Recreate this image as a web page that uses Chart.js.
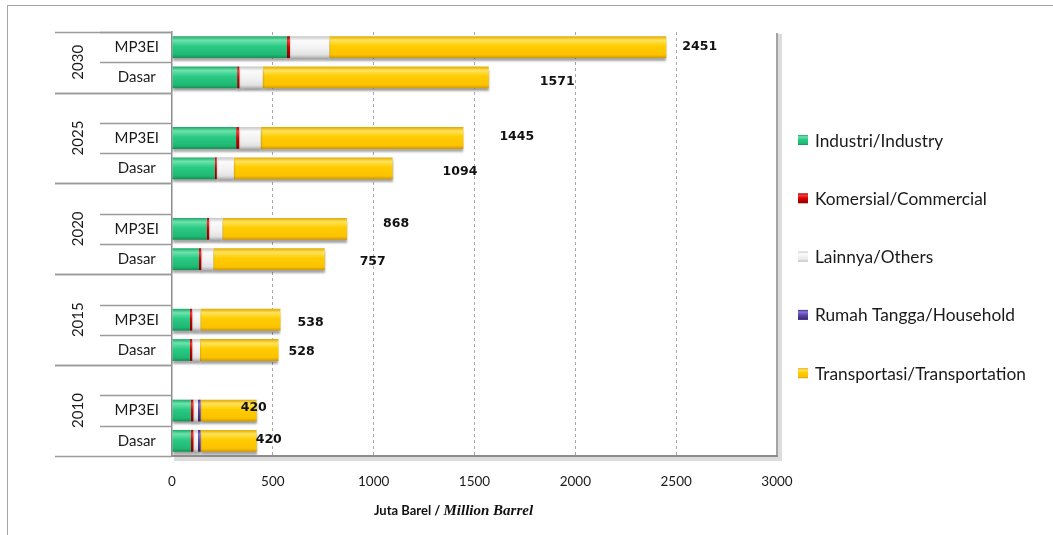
<!DOCTYPE html>
<html>
<head>
<meta charset="utf-8">
<script src="https://cdn.jsdelivr.net/npm/chart.js@4/dist/chart.umd.min.js"></script>
<style>
	html, body { margin: 0; background: #fff; }
	canvas { display: block; }
</style>
</head>
<body>
<canvas id="chart" width="1053" height="535"></canvas>
<script>
'use strict';

const years = ['2030', '2025', '2020', '2015', '2010'];
const scenarios = ['MP3EI', 'Dasar'];

// one value per bar, top to bottom: 2030 MP3EI, 2030 Dasar, 2025 MP3EI, ...
const industri     = [570, 323, 318, 212, 172, 134, 89, 89, 93, 93];
const komersial    = [15, 11, 15, 10, 12, 11, 11, 11, 13, 13];
const lainnya      = [195, 116, 107, 85, 66, 60, 41, 39, 23, 23];
const rumahTangga  = [0, 0, 0, 0, 0, 0, 0, 0, 13, 13];
const transportasi = [1671, 1121, 1005, 787, 618, 552, 397, 389, 278, 278];

const seriesNames = [
	'Industri/Industry',
	'Komersial/Commercial',
	'Lainnya/Others',
	'Rumah Tangga/Household',
	'Transportasi/Transportation',
];

const xTicks = [0, 500, 1000, 1500, 2000, 2500, 3000];

// hand-placed total labels, px nudge from the bar end
const labelDx = [16, 51, 36, 50, 36, 35, 17, 10, -16, -1];
const labelDy = [0, 4, -1, 3, -5, 3, 3, 2, -3, -1];

const SANS = 'Lato, "Open Sans", sans-serif';
const BAR_PCT = 0.72;

// bevel-ish gradient stops per series
const palette = [
	[[0, '#1aa866'], [0.18, '#6fe2ad'], [0.45, '#2acb85'], [0.85, '#1fb873'], [1, '#138f55']],
	[[0, '#a00000'], [0.2, '#ff3a3a'], [0.5, '#d80000'], [1, '#8a0000']],
	[[0, '#c4c4c4'], [0.2, '#fbfbfb'], [0.6, '#f0f0f0'], [0.85, '#e2e2e2'], [1, '#b0b0b0']],
	[[0, '#3f2a85'], [0.2, '#8d74d8'], [0.5, '#6046b0'], [1, '#35226e']],
	[[0, '#e0a800'], [0.18, '#ffe35a'], [0.45, '#ffcc00'], [0.85, '#fcc200'], [1, '#cf9800']],
];

// category slots: blank row between year groups
let categories = [], barSlot = [], groupSpan = [];
years.forEach((yr, g) => {
	let start = categories.length;
	if (g > 0) categories.push('');
	scenarios.forEach(s => {
		barSlot.push(categories.length);
		categories.push(s);
	});
	groupSpan.push([start, categories.length - 1]);
});

function spread(values) {
	let out = categories.map(() => null);
	values.forEach((v, i) => { out[barSlot[i]] = v; });
	return out;
}

function barFill(stops) {
	let base = stops[Math.floor(stops.length / 2)][1];
	return function (context) {
		let chart = context.chart;
		let ys = chart.scales.y;
		if (!ys || !chart.chartArea || context.type !== 'data') return base;
		let yc = ys.getPixelForValue(context.dataIndex);
		let slot = ys.getPixelForValue(1) - ys.getPixelForValue(0);
		let half = slot * BAR_PCT / 2;
		if (!isFinite(yc) || !isFinite(half) || half <= 0) return base;
		let grad = chart.ctx.createLinearGradient(0, yc - half, 0, yc + half);
		stops.forEach(([o, c]) => grad.addColorStop(o, c));
		return grad;
	};
}

const seriesValues = [industri, komersial, lainnya, rumahTangga, transportasi];

let datasets = seriesValues.map((vals, i) => ({
	label: seriesNames[i],
	data: spread(vals),
	backgroundColor: barFill(palette[i]),
	borderWidth: 0,
	categoryPercentage: 1,
	barPercentage: BAR_PCT,
}));

let barShadow = {
	id: 'barShadow',
	beforeDatasetsDraw(chart) {
		let ctx = chart.ctx;
		ctx.save();
		ctx.shadowColor = 'rgba(0,0,0,0.35)';
		ctx.shadowBlur = 2;
		ctx.shadowOffsetX = 0;
		ctx.shadowOffsetY = 3;
	},
	afterDatasetsDraw(chart) {
		chart.ctx.restore();
	},
};

let frame = {
	id: 'frame',
	beforeDraw(chart) {
		let ctx = chart.ctx;
		ctx.save();
		ctx.fillStyle = '#fff';
		ctx.fillRect(0, 0, chart.width, chart.height);
		ctx.strokeStyle = '#a6a6a6';
		ctx.lineWidth = 1;
		ctx.strokeRect(7.5, 5.5, chart.width + 10, chart.height + 10);
		ctx.restore();
	},
	afterDraw(chart) {
		let ctx = chart.ctx;
		let {left, right, top, bottom} = chart.chartArea;
		ctx.save();
		// plot edge with its soft shadow
		ctx.fillStyle = '#dcdcdc';
		ctx.fillRect(right + 1, top + 2, 4, bottom - top + 3);
		ctx.fillRect(left + 2, bottom + 1, right - left + 3, 4);
		ctx.strokeStyle = '#a4a4a4';
		ctx.lineWidth = 2;
		ctx.beginPath();
		ctx.moveTo(right, top + 1);
		ctx.lineTo(right, bottom);
		ctx.stroke();
		ctx.strokeStyle = '#8c8c8c';
		ctx.beginPath();
		ctx.moveTo(left, bottom);
		ctx.lineTo(right + 1, bottom);
		ctx.stroke();
		ctx.restore();
	},
};

let groupAxis = {
	id: 'groupAxis',
	afterDraw(chart) {
		let ctx = chart.ctx;
		let ys = chart.scales.y;
		let left = chart.chartArea.left;
		let slot = ys.getPixelForValue(1) - ys.getPixelForValue(0);
		let edge = idx => ys.getPixelForValue(idx) - slot / 2;
		let hline = (x0, y) => {
			ctx.beginPath();
			ctx.moveTo(x0, Math.round(y) + 0.5);
			ctx.lineTo(left, Math.round(y) + 0.5);
			ctx.stroke();
		};
		ctx.save();
		ctx.strokeStyle = '#9a9a9a';
		ctx.lineWidth = 1.3;
		groupSpan.forEach(([s, e], g) => {
			hline(55, edge(s));
			hline(55, edge(e + 1));
			let first = barSlot[g * scenarios.length];
			hline(100, edge(first));
			hline(100, edge(first + 1));
			let yc = (edge(s) + edge(e + 1)) / 2;
			ctx.save();
			ctx.translate(78, yc);
			ctx.rotate(-Math.PI / 2);
			ctx.fillStyle = '#1a1a1a';
			ctx.font = '15px ' + SANS;
			ctx.textAlign = 'center';
			ctx.textBaseline = 'middle';
			ctx.fillText(years[g], 0, 0);
			ctx.restore();
		});
		ctx.restore();
	},
};

let totalLabels = {
	id: 'totalLabels',
	afterDraw(chart) {
		let ctx = chart.ctx;
		let xs = chart.scales.x, ys = chart.scales.y;
		ctx.save();
		ctx.fillStyle = '#111';
		ctx.font = 'bold 12.5px "DejaVu Sans", Verdana, sans-serif';
		ctx.textAlign = 'left';
		ctx.textBaseline = 'middle';
		barSlot.forEach((slot, i) => {
			let total = seriesValues.reduce((sum, vals) => sum + vals[i], 0);
			let x = xs.getPixelForValue(total) + labelDx[i];
			let y = ys.getPixelForValue(slot) + labelDy[i];
			ctx.fillText(String(total), x, y);
		});
		ctx.restore();
	},
};

let sideLegend = {
	id: 'sideLegend',
	afterDraw(chart) {
		let ctx = chart.ctx;
		let x0 = chart.chartArea.right + 21;
		ctx.save();
		ctx.font = '17.3px ' + SANS;
		ctx.textBaseline = 'middle';
		ctx.textAlign = 'left';
		chart.data.datasets.forEach((ds, i) => {
			let y = 140 + i * 58.3;
			let grad = ctx.createLinearGradient(0, y - 5, 0, y + 5);
			palette[i].forEach(([o, c]) => grad.addColorStop(o, c));
			ctx.fillStyle = grad;
			ctx.fillRect(x0, y - 5, 10, 10);
			ctx.fillStyle = '#1a1a1a';
			ctx.fillText(ds.label, x0 + 17, y + 1);
		});
		ctx.restore();
	},
};

let xTitle = {
	id: 'xTitle',
	afterDraw(chart) {
		let ctx = chart.ctx;
		let {left, right} = chart.chartArea;
		let a = 'Juta Barel / ', b = 'Million Barrel';
		let fa = 'bold 13px ' + SANS;
		let fb = 'bold italic 15px "Liberation Serif", serif';
		ctx.save();
		ctx.font = fa;
		let wa = ctx.measureText(a).width;
		ctx.font = fb;
		let wb = ctx.measureText(b).width;
		let x = (left + right) / 2 - 21 - (wa + wb) / 2;
		let y = 515;
		ctx.fillStyle = '#111';
		ctx.textBaseline = 'alphabetic';
		ctx.font = fa;
		ctx.fillText(a, x, y);
		ctx.font = fb;
		ctx.fillText(b, x + wa, y);
		ctx.restore();
	},
};

new Chart(document.getElementById('chart'), {
	type: 'bar',
	data: {
		labels: categories,
		datasets: datasets,
	},
	plugins: [frame, barShadow, groupAxis, totalLabels, sideLegend, xTitle],
	options: {
		responsive: false,
		animation: false,
		indexAxis: 'y',
		layout: {
			padding: {left: 100, right: 276, top: 32, bottom: 0},
		},
		plugins: {
			legend: {display: false},
			tooltip: {enabled: false},
		},
		scales: {
			x: {
				stacked: true,
				min: 0,
				max: 3000,
				afterBuildTicks: axis => {
					axis.ticks = xTicks.map(v => ({value: v}));
				},
				afterFit: axis => { axis.height = 79; },
				border: {display: false, dash: [3, 3]},
				grid: {
					drawTicks: false,
					color: c => (c.tick && (c.tick.value === 0 || c.tick.value === 3000)) ? 'rgba(0,0,0,0)' : '#a8a8a8',
					lineWidth: 1,
				},
				ticks: {
					padding: 18,
					color: '#1a1a1a',
					font: {family: SANS, size: 13.5},
					maxRotation: 0,
					callback: v => String(v),
				},
			},
			y: {
				stacked: true,
				afterFit: axis => { axis.width = 72; },
				border: {display: true, color: '#8c8c8c', width: 1.5},
				grid: {display: false, drawTicks: false},
				ticks: {
					autoSkip: false,
					crossAlign: 'center',
					padding: 13,
					color: '#1a1a1a',
					font: {family: SANS, size: 15},
				},
			},
		},
	},
});
</script>
</body>
</html>
